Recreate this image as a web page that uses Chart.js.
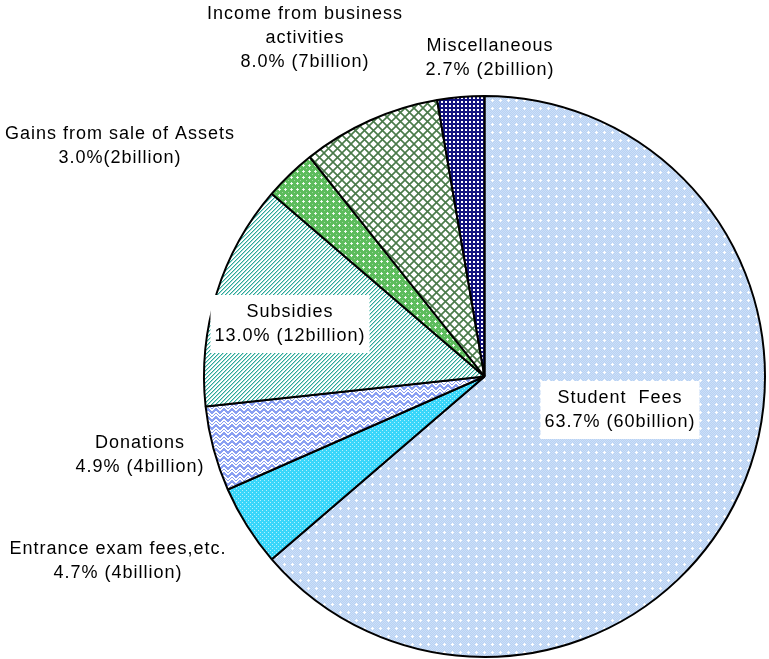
<!DOCTYPE html>
<html>
<head>
<meta charset="utf-8">
<script src="https://cdn.jsdelivr.net/npm/chart.js@4"></script>
<style>
  html, body { margin: 0; padding: 0; background: #fff; }
  #wrap { width: 769px; height: 659px; }
</style>
</head>
<body>
<div id="wrap"><canvas id="chart-1"></canvas></div>
<script>
var categories = ["Student Fees", "Entrance exam fees,etc.", "Donations", "Subsidies",
  "Gains from sale of Assets", "Income from business activities", "Miscellaneous"];
var shares = [63.7, 4.7, 4.9, 13.0, 3.0, 8.0, 2.7];
var billions = [60, 4, 4, 12, 2, 7, 2];

// label text, as it reads on the picture
var labelLines = [
  ["Student  Fees", "63.7% (60billion)"],
  ["Entrance exam fees,etc.", "4.7% (4billion)"],
  ["Donations", "4.9% (4billion)"],
  ["Subsidies", "13.0% (12billion)"],
  ["Gains from sale of Assets", "3.0%(2billion)"],
  ["Income from business", "activities", "8.0% (7billion)"],
  ["Miscellaneous", "2.7% (2billion)"]
];

// small tile patterns
function makePattern(size, draw) {
  var c = document.createElement("canvas");
  c.width = size; c.height = size;
  var g = c.getContext("2d");
  draw(g, size);
  return g.createPattern(c, "repeat");
}
function px(g, x, y, col) { g.fillStyle = col; g.fillRect(x, y, 1, 1); }

var patStudent = makePattern(8, function (g, s) {
  g.fillStyle = "#b8d2f4"; g.fillRect(0, 0, s, s);
  for (var y = 0; y < s; y++) for (var x = 0; x < s; x++) if ((x + y) % 2 == 0) px(g, x, y, "#cddff7");
  px(g, 4, 3, "#fff"); px(g, 3, 4, "#fff"); px(g, 4, 4, "#fff"); px(g, 5, 4, "#fff"); px(g, 4, 5, "#fff");
});
var patEntrance = makePattern(4, function (g, s) {
  g.fillStyle = "#38d6fa"; g.fillRect(0, 0, s, s);
  px(g, 0, 0, "#b0f0fd"); px(g, 2, 2, "#b0f0fd");
});
var patDonation = makePattern(8, function (g, s) {
  g.fillStyle = "#ffffff"; g.fillRect(0, 0, s, s);
  g.fillStyle = "#8aa0f2";
  for (var i = 0; i < 8; i++) {
    var y = i < 4 ? i : 7 - i;
    g.fillRect(i, y, 1, 3);
    g.fillRect(i, y + 5 > 7 ? y - 3 : y + 5, 1, 1);
  }
});
var patSubsidy = makePattern(4, function (g, s) {
  g.fillStyle = "#ffffff"; g.fillRect(0, 0, s, s);
  for (var i = 0; i < 4; i++) px(g, i, 3 - i, "#2aa899");
  for (var j = 0; j < 4; j++) px(g, j, (4 - j) % 4, "#a6dbd4");
});
var patGains = makePattern(6, function (g, s) {
  g.fillStyle = "#5cbc5c"; g.fillRect(0, 0, s, s);
  px(g, 3, 2, "#e6f5e6"); px(g, 2, 3, "#e6f5e6"); px(g, 3, 3, "#fff"); px(g, 4, 3, "#e6f5e6"); px(g, 3, 4, "#e6f5e6");
  px(g, 0, 0, "#9fd69f");
});
var patIncome = makePattern(9, function (g, s) {
  g.fillStyle = "#ffffff"; g.fillRect(0, 0, s, s);
  g.strokeStyle = "#4a7a4a";
  g.lineWidth = 1.6;
  g.beginPath();
  g.moveTo(-1, -1); g.lineTo(s + 1, s + 1);
  g.moveTo(s + 1, -1); g.lineTo(-1, s + 1);
  g.stroke();
});
var patMisc = makePattern(4, function (g, s) {
  g.fillStyle = "#12127e"; g.fillRect(0, 0, s, s);
  g.fillStyle = "#ffffff"; g.fillRect(1, 1, 2, 2);
});
var fills = [patStudent, patEntrance, patDonation, patSubsidy, patGains, patIncome, patMisc];

// where each label sits (centre x, first line y) and whether it has a white box
var labelPos = [
  { x: 620, y: 398, box: true },
  { x: 118, y: 549, box: false },
  { x: 140, y: 443, box: false },
  { x: 290, y: 312, box: true },
  { x: 120, y: 134, box: false },
  { x: 305, y: 14, box: false },
  { x: 490, y: 46, box: false }
];

var labelPlugin = {
  id: "sliceLabels",
  afterDatasetsDraw: function (chart) {
    var ctx = chart.ctx;
    ctx.save();
    ctx.font = "18px 'Liberation Sans', Arial, sans-serif";
    ctx.letterSpacing = "1px";
    ctx.textAlign = "center";
    ctx.textBaseline = "middle";
    var lh = 24;
    labelLines.forEach(function (lines, i) {
      var p = labelPos[i];
      if (p.box) {
        var w = 0;
        lines.forEach(function (t) { w = Math.max(w, ctx.measureText(t).width); });
        ctx.fillStyle = "#ffffff";
        ctx.fillRect(p.x - w / 2 - 4, p.y - 17, w + 8, lines.length * lh + 10);
      }
      ctx.fillStyle = "#000000";
      lines.forEach(function (t, k) { ctx.fillText(t, p.x, p.y + k * lh); });
    });
    ctx.restore();
  }
};

new Chart(document.getElementById("chart-1"), {
  type: "pie",
  data: {
    labels: categories,
    datasets: [{
      data: shares,
      backgroundColor: fills,
      borderColor: "#000000",
      borderWidth: 2
    }]
  },
  options: {
    responsive: true,
    maintainAspectRatio: false,
    animation: false,
    rotation: 0,
    layout: { padding: { left: 203, right: 3, top: 95, bottom: 1 } },
    plugins: {
      legend: { display: false },
      tooltip: { enabled: false }
    }
  },
  plugins: [labelPlugin]
});
</script>
</body>
</html>
